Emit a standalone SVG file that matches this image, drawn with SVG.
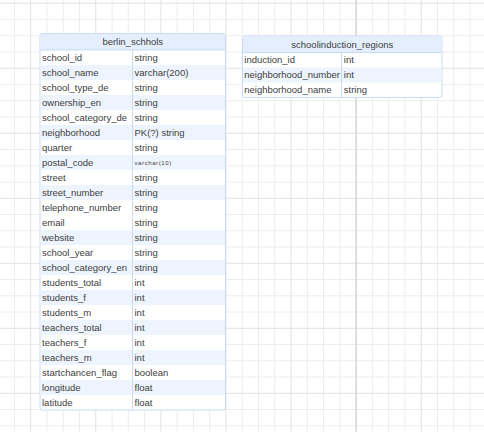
<svg xmlns="http://www.w3.org/2000/svg" width="484" height="432" viewBox="0 0 484 432">
<style>
.minor{stroke:#ededed;stroke-width:1;fill:none}
.major{stroke:#e2e2e2;stroke-width:1;fill:none}
.page{stroke:#d4d4d4;stroke-width:1.5;fill:none}
.frame{fill:#ffffff;stroke:#c8dbf6;stroke-width:1}
.head{fill:#e4eefc}
.alt{fill:#eef4fd}
.sep{stroke:#c8dbf6;stroke-width:1;fill:none}
.rowline{stroke:#e2ecfa;stroke-width:0.6;fill:none}
text{font-family:"Liberation Sans",Arial,sans-serif;font-size:9.5px;fill:#404040}
.title{text-anchor:middle}
.tiny{font-size:6px;letter-spacing:0.6px}
</style>
<rect width="484" height="432" fill="#ffffff"/>
<g id="grid">
<path class="minor" d="M14.43 0V432M46.97 0V432M63.24 0V432M79.51 0V432M112.05 0V432M128.32 0V432M144.59 0V432M177.13 0V432M193.4 0V432M209.67 0V432M242.21 0V432M258.48 0V432M274.75 0V432M307.29 0V432M323.56 0V432M339.83 0V432M372.37 0V432M388.64 0V432M404.91 0V432M437.45 0V432M453.72 0V432M469.99 0V432"/>
<path class="minor" d="M0 19.55H484M0 35.8H484M0 52.05H484M0 84.55H484M0 100.8H484M0 117.05H484M0 149.55H484M0 165.8H484M0 182.05H484M0 214.55H484M0 230.8H484M0 247.05H484M0 279.55H484M0 295.8H484M0 312.05H484M0 344.55H484M0 360.8H484M0 377.05H484M0 409.55H484M0 425.8H484"/>
<path class="major" d="M30.7 0V432M95.78 0V432M160.86 0V432M225.94 0V432M291.02 0V432M421.18 0V432"/>
<path class="major" d="M0 3.3H484M0 68.3H484M0 133.3H484M0 198.3H484M0 263.3H484M0 328.3H484M0 393.3H484"/>
<path class="page" d="M356.1 0V432"/>
</g>
<g id="connectors"></g>
<g id="berlin_schhols">
<rect class="frame" x="40" y="33.5" width="185.5" height="376.5" rx="2.5"/>
<path class="head" d="M42.5 34H223a2 2 0 0 1 2 2V50H40.5V36a2 2 0 0 1 2-2z"/>
<rect class="alt" x="40.5" y="65" width="184.5" height="15"/>
<rect class="alt" x="40.5" y="95" width="184.5" height="15"/>
<rect class="alt" x="40.5" y="125" width="184.5" height="15"/>
<rect class="alt" x="40.5" y="155" width="184.5" height="15"/>
<rect class="alt" x="40.5" y="185" width="184.5" height="15"/>
<rect class="alt" x="40.5" y="230" width="184.5" height="15"/>
<rect class="alt" x="40.5" y="260" width="184.5" height="15"/>
<rect class="alt" x="40.5" y="290" width="184.5" height="15"/>
<rect class="alt" x="40.5" y="320" width="184.5" height="15"/>
<rect class="alt" x="40.5" y="350" width="184.5" height="15"/>
<rect class="alt" x="40.5" y="380" width="184.5" height="15"/>
<path class="sep" d="M40 50H225.5M132.5 50V410"/>
<text class="title" x="132.75" y="45.3">berlin_schhols</text>
<text x="42" y="60.8">school_id</text><text x="134.5" y="60.8">string</text>
<text x="42" y="75.8">school_name</text><text x="134.5" y="75.8">varchar(200)</text>
<text x="42" y="90.8">school_type_de</text><text x="134.5" y="90.8">string</text>
<text x="42" y="105.8">ownership_en</text><text x="134.5" y="105.8">string</text>
<text x="42" y="120.8">school_category_de</text><text x="134.5" y="120.8">string</text>
<text x="42" y="135.8">neighborhood</text><text x="134.5" y="135.8">PK(?) string</text>
<text x="42" y="150.8">quarter</text><text x="134.5" y="150.8">string</text>
<text x="42" y="165.8">postal_code</text><text class="tiny" x="134.5" y="164.8">varchar(10)</text>
<text x="42" y="180.8">street</text><text x="134.5" y="180.8">string</text>
<text x="42" y="195.8">street_number</text><text x="134.5" y="195.8">string</text>
<text x="42" y="210.8">telephone_number</text><text x="134.5" y="210.8">string</text>
<text x="42" y="225.8">email</text><text x="134.5" y="225.8">string</text>
<text x="42" y="240.8">website</text><text x="134.5" y="240.8">string</text>
<text x="42" y="255.8">school_year</text><text x="134.5" y="255.8">string</text>
<text x="42" y="270.8">school_category_en</text><text x="134.5" y="270.8">string</text>
<text x="42" y="285.8">students_total</text><text x="134.5" y="285.8">int</text>
<text x="42" y="300.8">students_f</text><text x="134.5" y="300.8">int</text>
<text x="42" y="315.8">students_m</text><text x="134.5" y="315.8">int</text>
<text x="42" y="330.8">teachers_total</text><text x="134.5" y="330.8">int</text>
<text x="42" y="345.8">teachers_f</text><text x="134.5" y="345.8">int</text>
<text x="42" y="360.8">teachers_m</text><text x="134.5" y="360.8">int</text>
<text x="42" y="375.8">startchancen_flag</text><text x="134.5" y="375.8">boolean</text>
<text x="42" y="390.8">longitude</text><text x="134.5" y="390.8">float</text>
<text x="42" y="405.8">latitude</text><text x="134.5" y="405.8">float</text>
</g>
<g id="schoolinduction_regions">
<rect class="frame" x="242.5" y="36" width="199.5" height="61.5" rx="2.5"/>
<path class="head" d="M245 36.5H439.5a2 2 0 0 1 2 2V52.5H243V38.5a2 2 0 0 1 2-2z"/>
<rect class="alt" x="243" y="67.5" width="198.5" height="15"/>
<path class="sep" d="M242.5 52.5H442M341.5 52.5V97.5"/>
<text class="title" x="342.25" y="47.6">schoolinduction_regions</text>
<text x="244.3" y="63.3">induction_id</text><text x="343.8" y="63.3">int</text>
<text x="244.3" y="78.3">neighborhood_number</text><text x="343.8" y="78.3">int</text>
<text x="244.3" y="93.3">neighborhood_name</text><text x="343.8" y="93.3">string</text>
</g>
</svg>
